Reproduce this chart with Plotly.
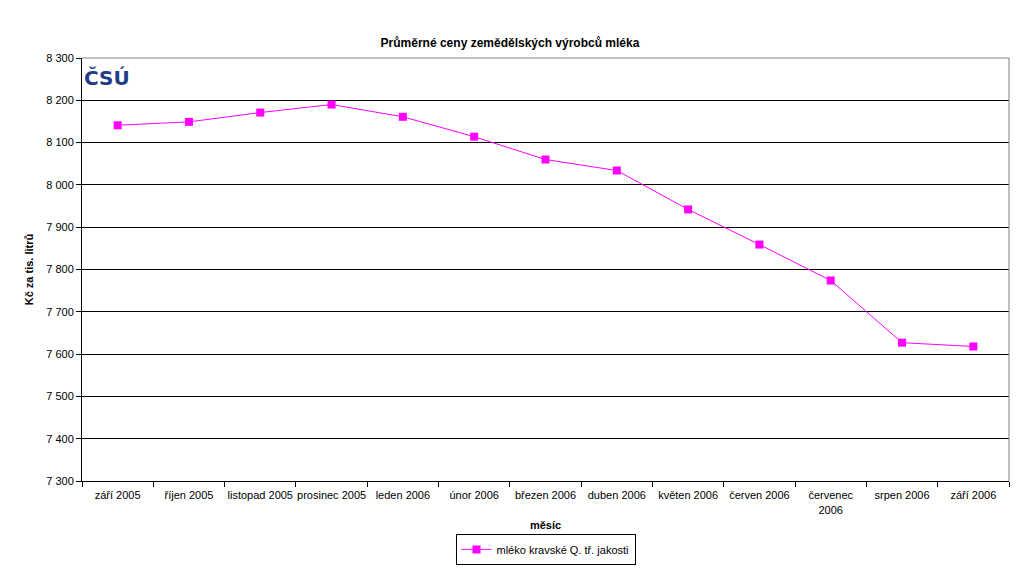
import plotly.graph_objects as go

months = ["září 2005", "říjen 2005", "listopad 2005", "prosinec 2005", "leden 2006",
          "únor 2006", "březen 2006", "duben 2006", "květen 2006", "červen 2006",
          "červenec<br>2006", "srpen 2006", "září 2006"]
prices = [8141, 8149, 8171, 8190, 8161, 8114, 8060, 8034, 7942, 7859, 7774, 7627, 7618]
series_name = "mléko kravské Q. tř. jakosti"

font_family = "Liberation Sans, Arial, sans-serif"

fig = go.Figure()
fig.add_trace(go.Scatter(
    x=months, y=prices, mode="lines+markers", name=series_name,
    line=dict(color="#FF00FF", width=1),
    marker=dict(symbol="square", size=8, color="#FF00FF"),
))

fig.update_layout(
    width=1020, height=588,
    margin=dict(l=82, r=11, t=58, b=107),
    paper_bgcolor="white", plot_bgcolor="white",
    separators=", ",
    font=dict(family=font_family, size=11, color="black"),
    title=dict(text="<b>Průměrné ceny zemědělských výrobců mléka</b>",
               x=0.5, xanchor="center", y=1 - 43/588, yanchor="middle",
               font=dict(size=12, family=font_family)),
    showlegend=True,
    legend=dict(orientation="h", x=0.5, xanchor="center", y=-0.125, yanchor="top",
                bordercolor="black", borderwidth=1, bgcolor="white",
                font=dict(size=11), itemwidth=30),
    xaxis=dict(
        title=dict(text="<b>měsíc</b>", font=dict(size=11), standoff=6),
        range=[-0.5, len(months) - 0.5],
        showline=True, linecolor="black", linewidth=1, mirror=False,
        ticks="outside", ticklen=5, tickcolor="black", tickson="boundaries",
        ticklabelstandoff=4,
        showgrid=False, tickangle=0,
    ),
    yaxis=dict(
        title=dict(text="<b>Kč za tis. litrů</b>", font=dict(size=11), standoff=10),
        range=[7300, 8300], dtick=100, tickformat=",d",
        showline=True, linecolor="black", linewidth=1,
        ticks="outside", ticklen=5, tickcolor="black",
        showgrid=True, gridcolor="black", gridwidth=1,
        zeroline=False,
    ),
    shapes=[
        dict(type="line", xref="paper", yref="paper", x0=0, x1=1, y0=1, y1=1,
             line=dict(color="#808080", width=1)),
        dict(type="line", xref="paper", yref="paper", x0=1, x1=1, y0=0, y1=1,
             line=dict(color="#808080", width=1)),
    ],
    annotations=[
        dict(text="<b>ČSÚ</b>", xref="paper", yref="paper", x=0.0, y=0.985,
             xanchor="left", yanchor="top", showarrow=False,
             font=dict(size=20, color="#1F3C88", family="DejaVu Sans, sans-serif")),
    ],
)

fig.write_html("out.html")
